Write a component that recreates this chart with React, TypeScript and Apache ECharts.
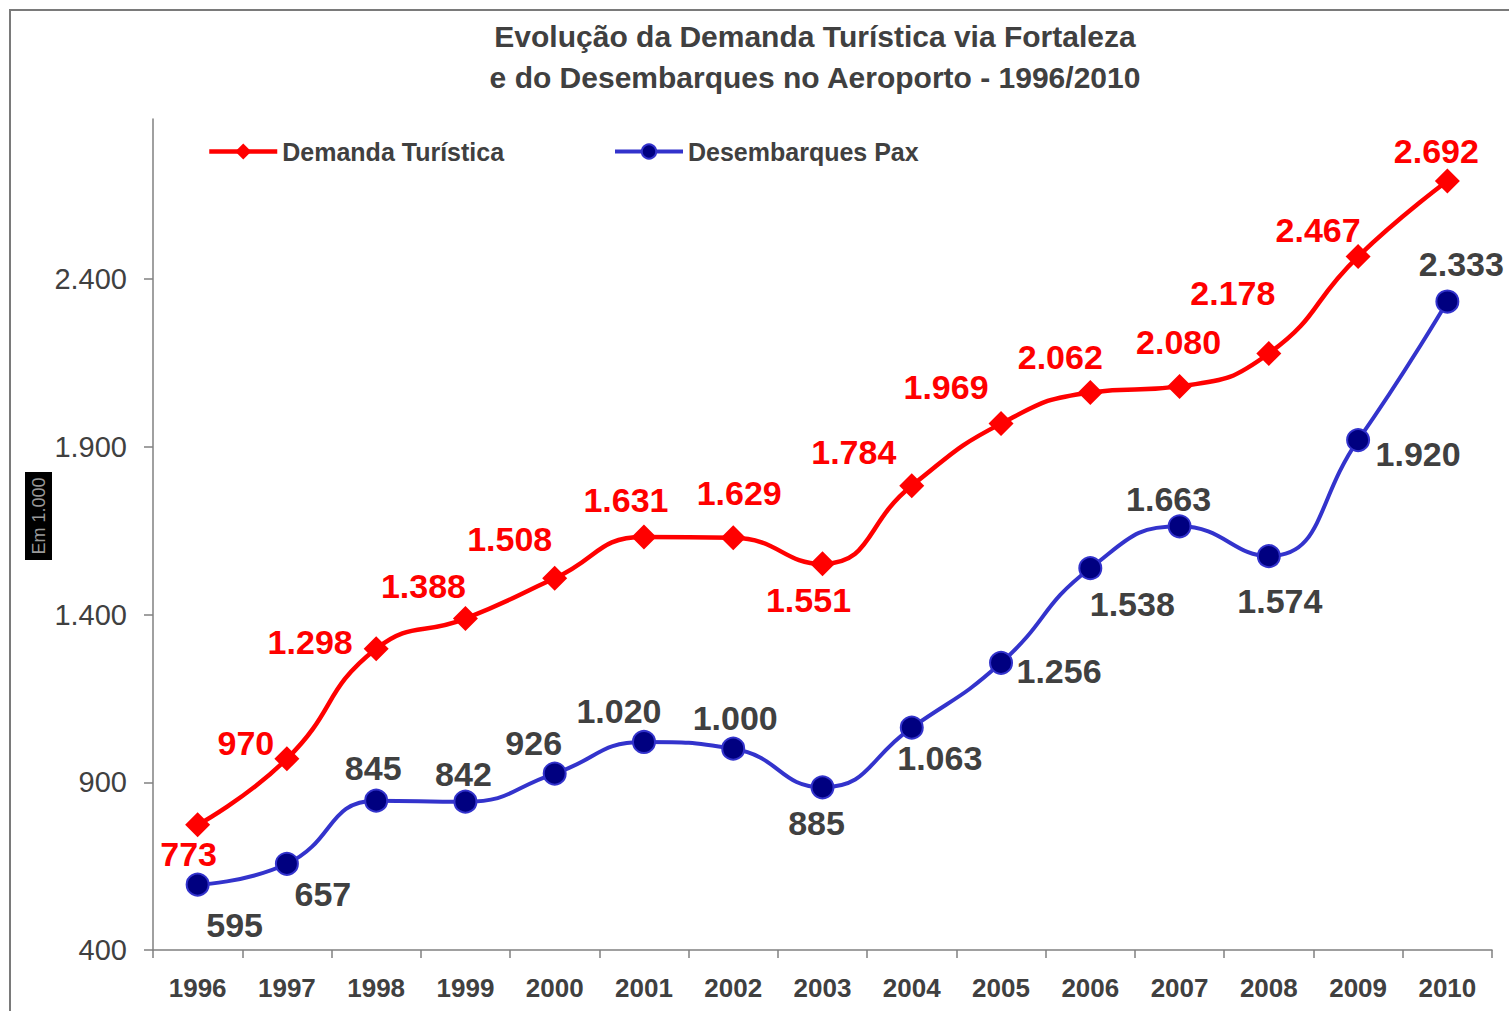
import React, { useEffect, useRef } from "react";
import * as echarts from "echarts";

const years = ["1996","1997","1998","1999","2000","2001","2002","2003","2004","2005","2006","2007","2008","2009","2010"];
const demanda = [773, 970, 1298, 1388, 1508, 1631, 1629, 1551, 1784, 1969, 2062, 2080, 2178, 2467, 2692];
const desembarques = [595, 657, 845, 842, 926, 1020, 1000, 885, 1063, 1256, 1538, 1663, 1574, 1920, 2333];
const yTicks = [400, 900, 1400, 1900, 2400];

// label offsets (layout only)
const redOffsets = [[-9,29],[-41,-16],[-66,-7],[-42,-33],[-45,-39],[-18,-37],[6,-45],[-14,36],[-58,-34],[-55,-37],[-30,-35],[-1,-44],[-36,-61],[-40,-27],[-11,-30]];
const blueOffsets = [[37,40],[36,30],[-3,-33],[-2,-28],[-21,-31],[-25,-31],[2,-31],[-6,36],[28,30],[58,8],[42,36],[-11,-27],[11,45],[60,14],[14,-38]];

const FONT = "'Liberation Sans', Arial, sans-serif";
const fmt = (v: number) => {
  const s = String(Math.round(v));
  return s.replace(/\B(?=(\d{3})+(?!\d))/g, ".");
};

export default function App() {
  const ref = useRef<HTMLDivElement>(null);
  useEffect(() => {
    if (!ref.current) return;
    const chart = echarts.init(ref.current, null, { renderer: "svg" });
    const mk = (vals: number[], offs: number[][]) =>
      vals.map((v, i) => ({ value: v, label: { offset: offs[i] } }));
    const legendText = { fontFamily: FONT, fontSize: 25, fontWeight: "bold", color: "#404040" };
    chart.setOption({
      animation: false,
      backgroundColor: "#ffffff",
      title: {
        text: "Evolução da Demanda Turística via Fortaleza\ne do Desembarques no Aeroporto - 1996/2010",
        left: 815,
        top: 16,
        textAlign: "center",
        padding: 0,
        textStyle: { fontFamily: FONT, fontSize: 30, fontWeight: "bold", color: "#404040", lineHeight: 41 },
      },
      legend: [
        {
          left: 207, top: 139, padding: 0, itemWidth: 68, itemHeight: 20, itemGap: 10,
          data: ["Demanda Turística"],
          lineStyle: { width: 4.5 },
          textStyle: legendText,
        },
        {
          left: 613, top: 139, padding: 0, itemWidth: 68, itemHeight: 18, itemGap: 10,
          data: ["Desembarques Pax"],
          lineStyle: { width: 4 },
          textStyle: legendText,
        },
      ],
      grid: { left: 153, right: 17, top: 119, bottom: 61, containLabel: false },
      xAxis: {
        type: "category",
        data: years,
        boundaryGap: true,
        axisLine: { lineStyle: { color: "#808080", width: 1.5 } },
        axisTick: { show: true, length: 8, lineStyle: { color: "#808080", width: 1.5 } },
        axisLabel: { fontFamily: FONT, fontSize: 26, fontWeight: "bold", color: "#404040", margin: 25 },
      },
      yAxis: {
        type: "value",
        min: 400,
        max: 2877,
        splitLine: { show: false },
        axisLine: { show: true, lineStyle: { color: "#808080", width: 1.5 } },
        axisTick: { show: true, length: 9, customValues: yTicks, lineStyle: { color: "#808080", width: 1.5 } },
        axisLabel: {
          fontFamily: FONT, fontSize: 29, color: "#404040", margin: 26,
          customValues: yTicks,
          formatter: (v: number) => fmt(v),
        },
      },
      graphic: [
        {
          type: "rect",
          shape: { x: 10, y: 10, width: 1700, height: 1200 },
          style: { fill: "none", stroke: "#7a7a7a", lineWidth: 2 },
          silent: true,
        },
        {
          type: "rect",
          shape: { x: 25, y: 472, width: 27, height: 88 },
          style: { fill: "#000000" },
          silent: true,
        },
        {
          type: "text",
          x: 38.5, y: 516,
          rotation: Math.PI / 2,
          style: {
            text: "Em 1.000",
            fill: "#9a9a9a",
            fontFamily: FONT,
            fontSize: 18,
            align: "center",
            verticalAlign: "middle",
          },
          silent: true,
        },
      ],
      series: [
        {
          name: "Demanda Turística",
          type: "line",
          data: mk(demanda, redOffsets),
          smooth: 0.5,
          symbol: "diamond",
          symbolSize: 25,
          itemStyle: { color: "#ff0000" },
          lineStyle: { color: "#ff0000", width: 4.5 },
          label: {
            show: true,
            position: "inside",
            fontFamily: FONT,
            fontSize: 34,
            fontWeight: "bold",
            color: "#ff0000",
            formatter: (p: any) => fmt(p.value),
          },
          z: 3,
        },
        {
          name: "Desembarques Pax",
          type: "line",
          data: mk(desembarques, blueOffsets),
          smooth: 0.5,
          symbol: "circle",
          symbolSize: 22,
          itemStyle: { color: "#000080", borderColor: "#3333cc", borderWidth: 2 },
          lineStyle: { color: "#3333cc", width: 4 },
          label: {
            show: true,
            position: "inside",
            fontFamily: FONT,
            fontSize: 34,
            fontWeight: "bold",
            color: "#404040",
            formatter: (p: any) => fmt(p.value),
          },
          z: 2,
        },
      ],
    });
    return () => chart.dispose();
  }, []);
  return (
    <div
      ref={ref}
      style={{ position: "fixed", left: 0, top: 0, width: 1509, height: 1011 }}
    />
  );
}
